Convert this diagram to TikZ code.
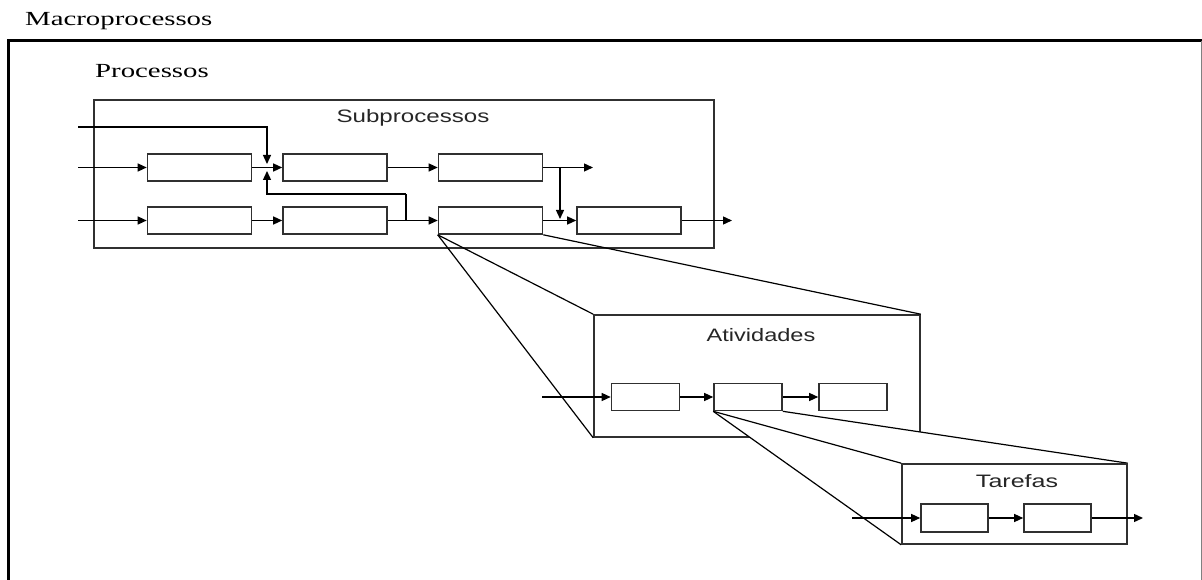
\documentclass[tikz,border=0pt]{standalone}
\usepackage{fontspec}
\setmainfont{Liberation Serif}
\setsansfont{Liberation Sans}
\usetikzlibrary{arrows.meta}
\definecolor{boxc}{HTML}{303030}
\begin{document}
\begin{tikzpicture}[x=1pt,y=-1pt,
  frame/.style={draw=boxc, line width=1.6pt, inner sep=0pt},
  pbox/.style={draw=boxc, line width=1.6pt, minimum width=104pt, minimum height=27pt, inner sep=0pt},
  sbox/.style={draw=boxc, line width=1.6pt, minimum width=68pt, minimum height=27pt, inner sep=0pt},
  arr/.style={-{Triangle[length=9pt,width=8pt]}, line width=1.3pt, black},
  conn/.style={line width=1.3pt, black},
  zoomline/.style={line width=1.2pt, black},
  seriflbl/.style={anchor=base west, inner sep=0pt, font=\fontsize{20}{24}\selectfont},
  sanslbl/.style={anchor=base, inner sep=0pt, font=\sffamily\fontsize{18}{22}\selectfont, text=black!85}]
\useasboundingbox (0,0) rectangle (1202,580);
% Macroprocessos frame
\draw[line width=3pt, black] (8,580) -- (8,41) -- (1202,41);
\draw[line width=1pt, gray] (1201,41) -- (1201,580);
\node[seriflbl] (macro) at (25,26) {\scalebox{1.44}[1]{Macroprocessos}};
\node[seriflbl] (proc) at (95,78) {\scalebox{1.44}[1]{Processos}};
% Subprocessos
\node[frame, minimum width=620pt, minimum height=148pt] (sub) at (404,174) {};
\node[sanslbl] (subt) at (413,123) {\scalebox{1.34}[1]{Subprocessos}};
\node[pbox] (b1) at (199.5,167.5) {};
\node[pbox] (b2) at (335,167.5) {};
\node[pbox] (b3) at (490.5,167.5) {};
\node[pbox] (b4) at (199.5,220.5) {};
\node[pbox] (b5) at (335,220.5) {};
\node[pbox] (b6) at (490.5,220.5) {};
\node[pbox] (b7) at (629,220.5) {};
\coordinate (in0) at (78,127);
\coordinate (in1) at (78,167.5);
\coordinate (in2) at (78,220.5);
\coordinate (j1) at (267,164);
\coordinate (j2) at (267,171);
\coordinate (br1) at (406,220.5);
\coordinate (k1) at (406,194);
\coordinate (out1) at (593,167.5);
\coordinate (br2) at (560,167.5);
\coordinate (j3) at (560,219);
\coordinate (out2) at (732,220.5);
\draw[arr] (in1) -- (b1.west);
\draw[arr] (in2) -- (b4.west);
\draw[arr] (in0) -| (j1);
\draw[arr] (b1.east) -- (b2.west);
\draw[arr] (b4.east) -- (b5.west);
\draw[arr] (b5.east) -- (b6.west);
\draw[arr] (k1) -| (j2);
\draw[conn] (br1) -- (k1);
\draw[arr] (b2.east) -- (b3.west);
\draw[arr] (b3.east) -- (out1);
\draw[arr] (br2) -- (j3);
\draw[arr] (b6.east) -- (b7.west);
\draw[arr] (b7.east) -- (out2);
% Atividades
\node[frame, minimum width=326pt, minimum height=122pt] (act) at (757,376) {};
\draw[zoomline] (b6.south west) -- (act.north west);
\draw[zoomline] (b6.south west) -- (act.south west);
\draw[zoomline] (b6.south east) -- (act.north east);
\node[sanslbl] (actt) at (761,341.5) {\scalebox{1.31}[1]{Atividades}};
\node[sbox] (a1) at (645.5,397) {};
\node[sbox] (a2) at (748,397) {};
\node[sbox] (a3) at (853,397) {};
\coordinate (ain) at (542,397);
\draw[arr] (ain) -- (a1.west);
\draw[arr] (a1.east) -- (a2.west);
\draw[arr] (a2.east) -- (a3.west);
% Tarefas
\node[frame, minimum width=225pt, minimum height=80pt] (tar) at (1014.5,504) {};
\fill[white] (a2.south west) -- (a2.south east) -- (tar.north east) -- (tar.south west) -- cycle;
\draw[zoomline] (a2.south west) -- (tar.north west);
\draw[zoomline] (a2.south west) -- (tar.south west);
\draw[zoomline] (a2.south east) -- (tar.north east);
\node[frame, minimum width=225pt, minimum height=80pt] (tar2) at (1014.5,504) {};
\node[sanslbl] (tart) at (1017,487) {\scalebox{1.39}[1]{Tarefas}};
\node[sbox, minimum width=67pt, minimum height=28pt] (t1) at (954.5,518) {};
\node[sbox, minimum width=67pt, minimum height=28pt] (t2) at (1057.5,518) {};
\coordinate (tin) at (852,518);
\coordinate (tout) at (1143,518);
\draw[arr] (tin) -- (t1.west);
\draw[arr] (t1.east) -- (t2.west);
\draw[arr] (t2.east) -- (tout);
\end{tikzpicture}
\end{document}
